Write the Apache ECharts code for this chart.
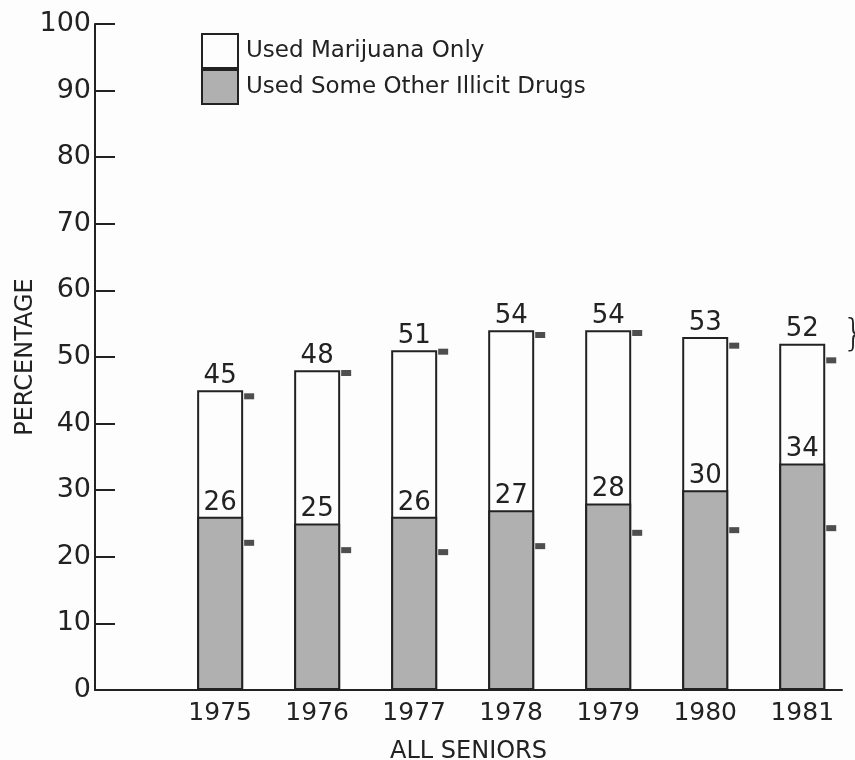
<!DOCTYPE html>
<html>
<head>
<meta charset="utf-8">
<script src="https://cdn.jsdelivr.net/npm/echarts@6/dist/echarts.min.js"></script>
<style>
  html, body { margin: 0; padding: 0; background: #fdfdfd; }
  #chart { width: 855px; height: 760px; }
</style>
</head>
<body>
<div id="chart"></div>
<script>
var years = [1975, 1976, 1977, 1978, 1979, 1980, 1981];
// percentage who ever used any illicit drug (top of bar)
var anyDrug = [45, 48, 51, 54, 54, 53, 52];
// percentage who used some other illicit drug (shaded part)
var otherDrugs = [26, 25, 26, 27, 28, 30, 34];
// small flags on the right side of each bar
var flagUpper = [44.1, 47.6, 50.8, 53.3, 53.6, 51.7, 49.5];
var flagLower = [22.1, 21.0, 20.7, 21.6, 23.6, 24.0, 24.3];

var ink = '#222';
var font = 'DejaVu Sans';

function pairs(vals) {
  return years.map(function (y, i) { return [y, vals[i]]; });
}

var chart = echarts.init(document.getElementById('chart'));
chart.setOption({
  backgroundColor: '#fdfdfd',
  animation: false,
  textStyle: { fontFamily: font, color: ink },
  grid: { left: 95, right: 13, top: 24, bottom: 70, outerBoundsMode: 'none', containLabel: false },
  legend: {
    data: ['Used Marijuana Only', 'Used Some Other Illicit Drugs'],
    orient: 'vertical',
    left: 196,
    top: 28,
    itemGap: 0,
    itemWidth: 36,
    itemHeight: 34,
    icon: 'rect',
    selectedMode: false,
    textStyle: { fontSize: 23, color: ink, fontFamily: font, padding: [0, 0, 0, 3] }
  },
  xAxis: {
    type: 'value',
    min: 1973.71,
    max: 1981.41,
    name: 'ALL SENIORS',
    nameLocation: 'middle',
    nameGap: 50,
    nameTextStyle: { fontSize: 24, color: ink },
    splitLine: { show: false },
    axisLine: { show: true, lineStyle: { color: ink, width: 2 } },
    axisTick: { show: false },
    axisLabel: {
      customValues: years,
      fontSize: 25,
      color: ink,
      margin: 11,
      formatter: function (v) { return String(v); }
    }
  },
  yAxis: {
    type: 'value',
    min: 0,
    max: 100,
    interval: 10,
    name: 'PERCENTAGE',
    nameLocation: 'middle',
    nameGap: 57,
    nameMoveOverlap: false,
    nameTextStyle: { fontSize: 24, color: ink },
    splitLine: { show: false },
    axisLine: { show: true, lineStyle: { color: ink, width: 2 } },
    axisTick: { show: true, inside: true, length: 20, lineStyle: { color: ink, width: 2 } },
    axisLabel: { fontSize: 27, color: ink, margin: 4 }
  },
  series: [
    {
      name: 'Used Marijuana Only',
      type: 'bar',
      barWidth: 46,
      data: pairs(anyDrug),
      itemStyle: { color: '#fdfdfd', borderColor: ink, borderWidth: 2 },
      label: {
        show: true, position: 'top', distance: 1,
        fontSize: 26, color: ink, fontFamily: font,
        formatter: function (p) { return p.value[1]; }
      },
      z: 2
    },
    {
      name: 'Used Some Other Illicit Drugs',
      type: 'bar',
      barWidth: 46,
      barGap: '-100%',
      data: pairs(otherDrugs),
      itemStyle: { color: '#b0b0b0', borderColor: ink, borderWidth: 2 },
      label: {
        show: true, position: 'top', distance: 1,
        fontSize: 26, color: ink, fontFamily: font,
        formatter: function (p) { return p.value[1]; }
      },
      z: 3
    },
    {
      name: 'flags upper',
      type: 'scatter',
      symbol: 'rect',
      symbolSize: [10, 6],
      symbolOffset: [29, 0],
      itemStyle: { color: ink },
      data: pairs(flagUpper),
      z: 4
    },
    {
      name: 'flags lower',
      type: 'scatter',
      symbol: 'rect',
      symbolSize: [10, 6],
      symbolOffset: [29, 0],
      itemStyle: { color: ink },
      data: pairs(flagLower),
      z: 4
    }
  ],
  graphic: [
    {
      type: 'text',
      left: 842,
      top: 316,
      style: { text: '}', fontSize: 38, fontWeight: 200, fill: ink, fontFamily: font }
    }
  ]
});
</script>
</body>
</html>
